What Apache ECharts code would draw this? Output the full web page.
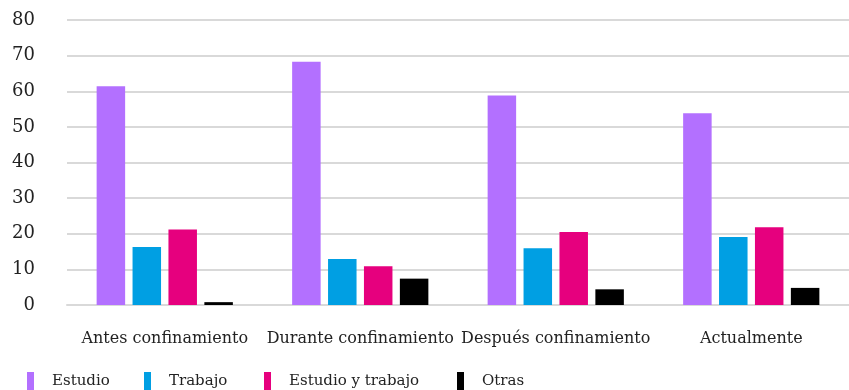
<!DOCTYPE html>
<html>
<head>
<meta charset="utf-8">
<script src="https://cdn.jsdelivr.net/npm/echarts@6/dist/echarts.min.js"></script>
<style>
  html, body { margin: 0; padding: 0; background: #ffffff; }
  #chart { width: 849px; height: 390px; }
</style>
</head>
<body>
<div id="chart"></div>
<script>
// Periods shown on the x axis
const categories = ['Antes confinamiento', 'Durante confinamiento', 'Después confinamiento', 'Actualmente'];

// Percentages per activity for each period
const estudio = [61.4, 68.3, 58.8, 53.8];
const trabajo = [16.3, 12.9, 15.9, 19.1];
const estudioYTrabajo = [21.2, 10.9, 20.5, 21.8];
const otras = [0.8, 7.4, 4.4, 4.8];

const seriesNames = ['Estudio', 'Trabajo', 'Estudio y trabajo', 'Otras'];
const yTicks = [0, 10, 20, 30, 40, 50, 60, 70, 80];

const colors = ['#b370ff', '#009fe3', '#e6007e', '#000000'];
const font = 'DejaVu Serif';

const chart = echarts.init(document.getElementById('chart'), null, { renderer: 'canvas' });

const values = [estudio, trabajo, estudioYTrabajo, otras];

// one legend block per series so each sits at its own spot
const legendLeft = [27, 144, 264, 457];
const legends = seriesNames.map((name, i) => ({
  data: [name],
  left: legendLeft[i],
  top: 372,
  padding: 0,
  icon: 'rect',
  itemWidth: 7,
  itemHeight: 18,
  textStyle: { fontFamily: font, fontSize: 15, color: '#222222', padding: [0, 0, 0, 13] },
  selectedMode: false
}));

chart.setOption({
  animation: false,
  color: colors,
  legend: legends,
  grid: { left: 67, top: 20, width: 791, height: 285, containLabel: false },
  xAxis: {
    type: 'category',
    data: categories,
    axisLine: { show: true, lineStyle: { color: '#d9d9d9', width: 2 } },
    axisTick: { show: false },
    axisLabel: { interval: 0, fontFamily: font, fontSize: 16, color: '#222222', margin: 26 }
  },
  yAxis: {
    type: 'value',
    min: yTicks[0],
    max: yTicks[yTicks.length - 1],
    interval: 10,
    axisLine: { show: false },
    axisTick: { show: false },
    splitLine: { lineStyle: { color: '#d9d9d9', width: 2 } },
    axisLabel: { fontFamily: font, fontSize: 18, color: '#222222', margin: 32 }
  },
  series: seriesNames.map((name, i) => ({
    name: name,
    type: 'bar',
    data: values[i],
    barWidth: 28.5,
    barGap: '26%',
    itemStyle: { color: colors[i] }
  }))
});
</script>
</body>
</html>
